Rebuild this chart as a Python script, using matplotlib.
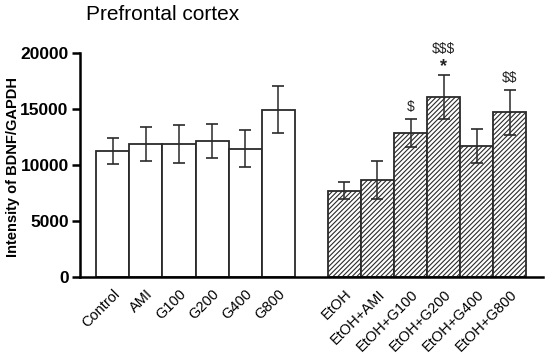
import numpy as np
import matplotlib.pyplot as plt

plt.rcParams['font.family'] = ['Liberation Sans', 'DejaVu Sans']
plt.rcParams['hatch.linewidth'] = 0.8
plt.rcParams['text.parse_math'] = False

ctrl_labels = ['Control', 'AMI', 'G100', 'G200', 'G400', 'G800']
ctrl_means = [11250, 11850, 11900, 12150, 11450, 14950]
ctrl_err = [1200, 1500, 1700, 1500, 1650, 2100]

etoh_labels = ['EtOH', 'EtOH+AMI', 'EtOH+G100', 'EtOH+G200', 'EtOH+G400', 'EtOH+G800']
etoh_means = [7700, 8700, 12880, 16070, 11700, 14700]
etoh_err = [770, 1700, 1250, 1950, 1550, 2000]
etoh_dollar = ['', '', '$', '$$$', '', '$$']
etoh_star = ['', '', '', '*', '', '']

x1 = np.arange(len(ctrl_labels))
x2 = np.arange(len(etoh_labels)) + 7

fig = plt.figure(figsize=(5.5, 3.58), dpi=100)
ax = fig.add_axes([0.145, 0.226, 0.842, 0.626])

ax.bar(x1, ctrl_means, width=1.0, color='white', edgecolor='#2a2a2a', linewidth=1.3)
ax.errorbar(x1, ctrl_means, yerr=ctrl_err, fmt='none', ecolor='#2a2a2a',
            elinewidth=1.1, capsize=4, capthick=1.2)
ax.bar(x2, etoh_means, width=1.0, color='white', edgecolor='#2a2a2a', linewidth=1.3,
       hatch='///////')
ax.errorbar(x2, etoh_means, yerr=etoh_err, fmt='none', ecolor='#2a2a2a',
            elinewidth=1.1, capsize=4, capthick=1.2)

# significance marks above the error bars
for xi, m, e, d, st in zip(x2, etoh_means, etoh_err, etoh_dollar, etoh_star):
    top = m + e + 450
    if st:
        ax.text(xi, top - 400, st, ha='center', va='bottom', fontsize=13,
                fontweight='bold', color='#222222')
        top += 1300
    if d:
        ax.text(xi, top, d, ha='center', va='bottom', fontsize=10, color='#222222')

ax.set_xlim(-1.0, 13.0)
ax.set_ylim(0, 20000)
ax.set_yticks([0, 5000, 10000, 15000, 20000])
ax.set_xticks(list(x1) + list(x2))
ax.set_xticklabels(ctrl_labels + etoh_labels, rotation=45, ha='right',
                   rotation_mode='anchor', fontsize=10.5)
for lab in ax.get_yticklabels():
    lab.set_fontweight('bold')
    lab.set_fontsize(12.5)

ax.spines['top'].set_visible(False)
ax.spines['right'].set_visible(False)
ax.spines['left'].set_linewidth(1.8)
ax.spines['bottom'].set_linewidth(1.8)
ax.tick_params(axis='y', width=1.8, length=6, pad=2)
ax.tick_params(axis='x', length=0, pad=7)

ax.set_ylabel('Intensity of BDNF/GAPDH', fontsize=10.5, fontweight='bold')
ax.yaxis.set_label_coords(-0.13, 0.49)
fig.text(0.157, 0.96, 'Prefrontal cortex', fontsize=15, va='center', ha='left')

fig.savefig('out.png', dpi=100)
